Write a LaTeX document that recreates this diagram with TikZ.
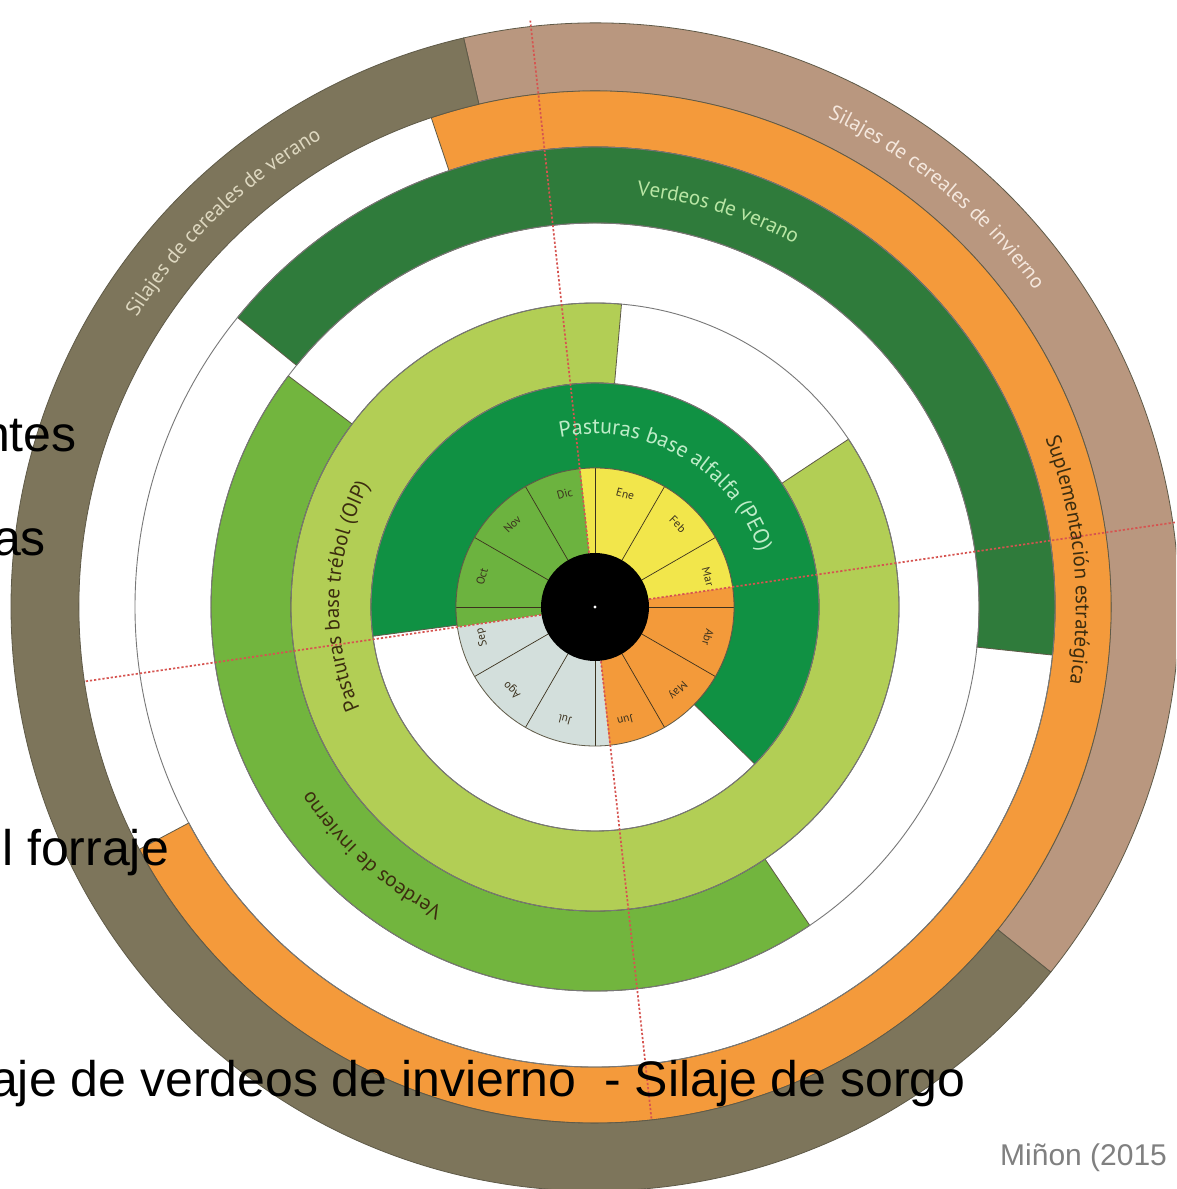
\documentclass[tikz,border=0pt]{standalone}
\usepackage{fontspec}
\setmainfont{Liberation Sans}
\newfontfamily\lblfont{PT Sans}
\usetikzlibrary{decorations.text}
\definecolor{khakiR}{RGB}{125,117,91}
\definecolor{tanR}{RGB}{185,151,127}
\definecolor{orangeR}{RGB}{244,154,59}
\definecolor{greenVer}{RGB}{47,123,59}
\definecolor{greenInv}{RGB}{114,181,62}
\definecolor{greenTre}{RGB}{178,206,85}
\definecolor{greenAlf}{RGB}{16,145,67}
\definecolor{wYellow}{RGB}{242,230,75}
\definecolor{wGreen}{RGB}{108,179,63}
\definecolor{wBlue}{RGB}{211,223,220}
\definecolor{wOrange}{RGB}{243,154,58}
\definecolor{edgeC}{RGB}{95,90,72}
\definecolor{ghostC}{RGB}{120,120,120}
\definecolor{dotC}{RGB}{214,84,80}
\definecolor{lblAlf}{RGB}{190,236,200}
\definecolor{lblVer}{RGB}{185,230,165}
\definecolor{lblSilI}{RGB}{245,232,222}
\definecolor{lblSilV}{RGB}{222,216,192}
\definecolor{lblDark}{RGB}{60,45,15}
\definecolor{monthC}{RGB}{60,50,30}
\definecolor{creditC}{RGB}{128,128,128}
\newcommand{\annsec}[5]{\filldraw[#5] (#1:#3) arc[start angle=#1,end angle=#2,radius=#3] -- (#2:#4) arc[start angle=#2,end angle=#1,radius=#4] -- cycle;}
\newcommand{\wedgesec}[4]{\fill[#4] (0,0) -- (#1:#3) arc[start angle=#1,end angle=#2,radius=#3] -- cycle;}
\newcommand{\arclabel}[6]{\path[decorate,decoration={text along path,text align=center,text color=#5,text={|\lblfont\fontsize{#4}{#4}\selectfont|#6}}] (#1:#3) arc[start angle=#1,end angle=#2,radius=#3];}
\begin{document}
\begin{tikzpicture}[x=1pt,y=1pt,
  ring/.style={draw=edgeC,line width=0.8pt},
  ghost/.style={draw=ghostC,line width=0.9pt},
  monthsep/.style={draw=monthC,line width=0.7pt},
  seasonline/.style={draw=dotC,line width=1.7pt,dash pattern=on 2.2pt off 2pt},
  monthlbl/.style={font=\lblfont\fontsize{11.5}{11.5}\selectfont,text=monthC,inner sep=0pt},
  ovl/.style={font=\fontsize{50}{60}\selectfont,text=black,inner sep=0pt,anchor=base west},
  credit/.style={font=\fontsize{30}{36}\selectfont,text=creditC,inner sep=0pt,anchor=base west}]
\clip (-595,-582) rectangle (581,607);
\fill[white] (-595,-582) rectangle (581,607);
% outer silage ring
\annsec{-38.7}{103}{516}{584}{fill=tanR,ring}
% orange supplementation ring
\annsec{208}{468.5}{460}{516}{fill=orangeR,ring}
% verdeos de verano
\annsec{-6}{141}{384}{460}{fill=greenVer,ring}
% verdeos de invierno
\annsec{143}{304}{304}{384}{fill=greenInv,ring}
% pasturas base trebol
\annsec{85}{393.5}{224}{304}{fill=greenTre,ring}
% pasturas base alfalfa
\annsec{-44.5}{187.5}{139}{224}{fill=greenAlf,ring}
% empty-ring outlines
\foreach \r in {460,384,304,224} \draw[ghost] (0,0) circle[radius=\r];
% month wheel
\wedgesec{8.3}{96}{139}{wYellow}
\wedgesec{96}{188.3}{139}{wGreen}
\wedgesec{188.3}{276}{139}{wBlue}
\wedgesec{276}{368.3}{139}{wOrange}
\foreach \a in {0,30,...,330} \draw[monthsep] (\a:54) -- (\a:139);
\draw[ring] (0,0) circle[radius=139];
% season dotted lines
\draw[seasonline] (0,0) -- (96.3:590);
\draw[seasonline] (0,0) -- (8.3:600);
\draw[seasonline] (0,0) -- (188.3:516);
\draw[seasonline] (0,0) -- (276.3:516);
% khaki part drawn over the lines
\annsec{103}{321.3}{516}{584}{fill=khakiR,ring}
% hub
\fill[black] (0,0) circle[radius=54];
\fill[white] (0,0) circle[radius=1.6];
% month labels
\foreach \m/\a in {Ene/75,Feb/45,Mar/15,Abr/-15,May/-45,Jun/-75,Jul/-105,Ago/-135,Sep/-165,Oct/165,Nov/135,Dic/105}
  \node[monthlbl,rotate=\a-90] (m\m) at (\a:117) {\m};
% ring labels
\arclabel{115}{5}{173}{22}{lblAlf}{Pasturas base alfalfa (PEO)}
\arclabel{215}{140}{256}{21}{lblDark}{Pasturas base trébol (OIP)}
\arclabel{255}{201}{337}{21}{lblDark}{Verdeos de invierno}
\arclabel{100}{45.4}{414}{21}{lblVer}{Verdeos de verano}
\arclabel{35}{-23.6}{481}{21}{lblDark}{Suplementación estratégica}
\arclabel{80}{20.4}{542}{21}{lblSilI}{Silajes de cereales de invierno}
\arclabel{165}{103}{542}{21}{lblSilV}{Silajes de cereales de verano}
% overlay slide text
\node[ovl] (t1) at (-613,155) {ntes};
\node[ovl] (t2) at (-602,52) {as};
\node[ovl] (t3) at (-593,-258) {l forraje};
\node[ovl] (t4) at (-605,-489) {aje de verdeos de invierno\ \ - Silaje de sorgo};
\node[credit] (t5) at (405,-558) {Miñon (2015};
\end{tikzpicture}
\end{document}
